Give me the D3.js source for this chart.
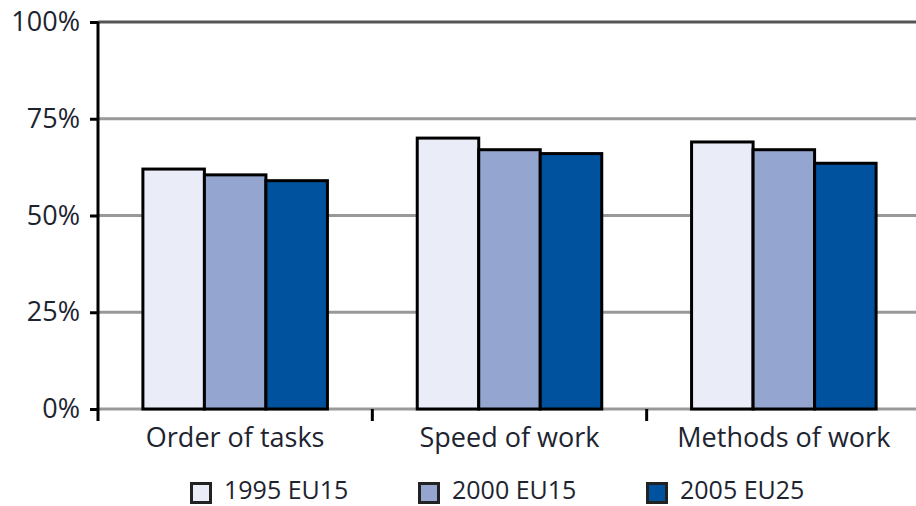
<!DOCTYPE html>
<html>
<head>
<meta charset="utf-8">
<script src="https://cdn.jsdelivr.net/npm/d3@7"></script>
<style>
  body { margin: 0; background: #fff; }
  svg { display: block; font-family: "Open Sans", sans-serif; }
</style>
</head>
<body>
<svg width="916" height="506"></svg>
<script>
// data
const categories = ['Order of tasks', 'Speed of work', 'Methods of work']
const series = ['1995 EU15', '2000 EU15', '2005 EU25']
const values1995 = [62, 70, 69]
const values2000 = [60.5, 67, 67]
const values2005 = [59, 66, 63.5]
const yTicks = [0, 25, 50, 75, 100]
const colors = ['#eaedf7', '#94a5d0', '#00529f']

const seriesValues = [values1995, values2000, values2005]

const svg = d3.select('svg')
const margin = {top: 22, left: 98}
const plotW = 823
const plotH = 387

const g = svg.append('g')
  .attr('transform', 'translate(' + margin.left + ',' + margin.top + ')')

const x0 = d3.scaleBand().domain(categories).range([0, plotW])
const x1 = d3.scaleBand().domain(series).range([0, x0.bandwidth()]).paddingOuter(0.73)
const y = d3.scaleLinear().domain([0, 100]).range([plotH, 0])

// gridlines
g.selectAll('.grid')
  .data(yTicks)
  .enter()
  .append('line')
    .attr('x1', 0)
    .attr('x2', 916 - margin.left)
    .attr('y1', d => y(d))
    .attr('y2', d => y(d))
    .attr('stroke', d => d === 100 ? '#555' : '#999')
    .attr('stroke-width', 3)

// bars
const groups = g.selectAll('.cat')
  .data(categories)
  .enter()
  .append('g')
    .attr('transform', d => 'translate(' + x0(d) + ',0)')

groups.selectAll('rect')
  .data((d, i) => series.map((s, j) => ({s: s, v: seriesValues[j][i], c: colors[j]})))
  .enter()
  .append('rect')
    .attr('x', d => x1(d.s))
    .attr('width', x1.bandwidth())
    .attr('y', d => y(d.v))
    .attr('height', d => plotH - y(d.v))
    .attr('fill', d => d.c)
    .attr('stroke', '#000')
    .attr('stroke-width', 3)

// y axis
const yAxis = g.append('g')
  .call(d3.axisLeft(y).tickValues(yTicks).tickSize(8).tickPadding(10).tickFormat(d => d + '%'))
yAxis.select('.domain').remove()
yAxis.selectAll('.tick line').attr('stroke', '#000').attr('stroke-width', 3)
yAxis.selectAll('text')
  .attr('font-size', 27)
  .attr('fill', '#1d2430')
  .attr('font-family', '"Open Sans", sans-serif')
g.append('line')
  .attr('x1', 0).attr('x2', 0)
  .attr('y1', 0).attr('y2', plotH + 12)
  .attr('stroke', '#000').attr('stroke-width', 3)

// category separator ticks
g.selectAll('.sep')
  .data(categories.slice(1))
  .enter()
  .append('line')
    .attr('x1', d => x0(d)).attr('x2', d => x0(d))
    .attr('y1', plotH).attr('y2', plotH + 12)
    .attr('stroke', '#000').attr('stroke-width', 3)

// category labels
g.selectAll('.catlabel')
  .data(categories)
  .enter()
  .append('text')
    .attr('x', d => x0(d) + x0.bandwidth() / 2)
    .attr('y', plotH + 38)
    .attr('text-anchor', 'middle')
    .attr('font-size', 27)
    .attr('fill', '#1d2430')
    .text(d => d)

// legend
const legendX = [190, 418, 646]
const legend = svg.selectAll('.legend')
  .data(series)
  .enter()
  .append('g')
    .attr('transform', (d, i) => 'translate(' + legendX[i] + ',482)')
legend.append('rect')
  .attr('x', 1.5).attr('y', 1.5)
  .attr('width', 19).attr('height', 19)
  .attr('fill', (d, i) => colors[i])
  .attr('stroke', '#222').attr('stroke-width', 3)
legend.append('text')
  .attr('x', 34)
  .attr('y', 17)
  .attr('font-size', 25)
  .attr('fill', '#1d2430')
  .text(d => d)
</script>
</body>
</html>
